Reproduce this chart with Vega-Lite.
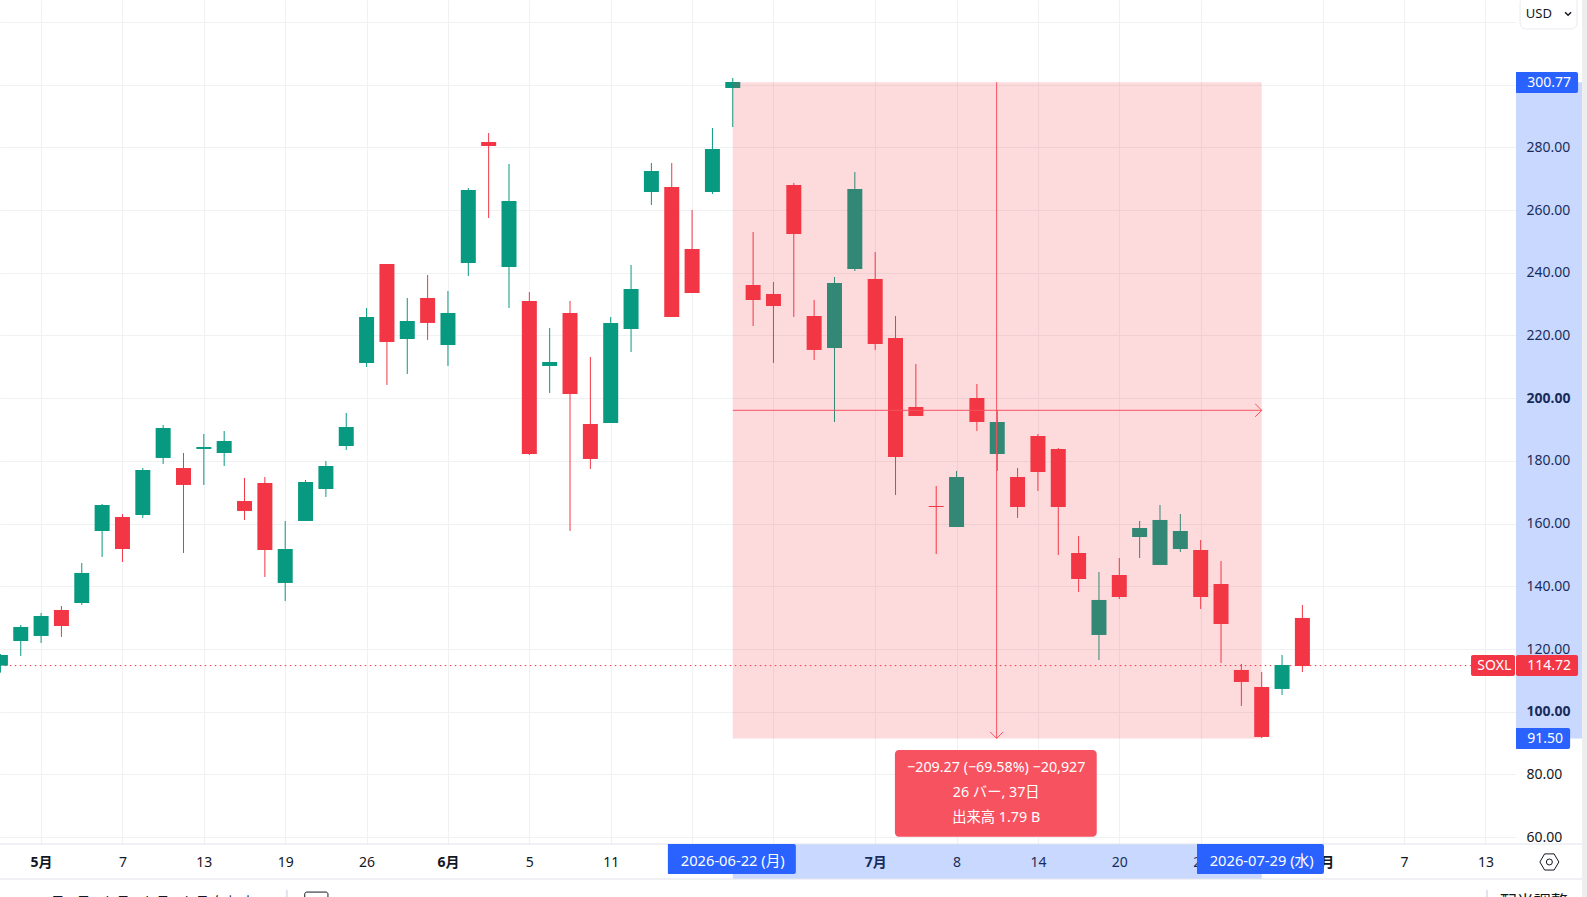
{
  "$schema": "https://vega.github.io/schema/vega-lite/v6.json",
  "width": 1516,
  "height": 844,
  "autosize": {"type": "none"},
  "padding": {"left": 0, "top": 0, "right": 71, "bottom": 53},
  "background": "white",
  "config": {
    "view": {"stroke": null},
    "font": "Noto Sans, Noto Sans CJK JP",
    "text": {"font": "Noto Sans, Noto Sans CJK JP", "fontSize": 14}
  },
  "datasets": {
    "candles": [
      {"bar": -2, "date": "2026-04-29", "open": 114.71, "high": 118.43, "low": 112.47, "close": 118.11},
      {"bar": -1, "date": "2026-04-30", "open": 122.57, "high": 127.68, "low": 117.79, "close": 127.04},
      {"bar": 0, "date": "2026-05-01", "open": 124.17, "high": 131.5, "low": 121.94, "close": 130.54},
      {"bar": 1, "date": "2026-05-04", "open": 132.46, "high": 133.73, "low": 123.85, "close": 127.36},
      {"bar": 2, "date": "2026-05-05", "open": 134.69, "high": 147.44, "low": 134.05, "close": 144.26},
      {"bar": 3, "date": "2026-05-06", "open": 157.65, "high": 166.26, "low": 149.36, "close": 165.94},
      {"bar": 4, "date": "2026-05-07", "open": 162.11, "high": 163.07, "low": 147.76, "close": 151.91},
      {"bar": 5, "date": "2026-05-08", "open": 162.75, "high": 177.74, "low": 161.79, "close": 177.1},
      {"bar": 6, "date": "2026-05-11", "open": 180.93, "high": 191.45, "low": 179.01, "close": 190.49},
      {"bar": 7, "date": "2026-05-12", "open": 177.74, "high": 182.52, "low": 150.63, "close": 172.32},
      {"bar": 8, "date": "2026-05-13", "open": 183.8, "high": 188.58, "low": 172.32, "close": 184.43},
      {"bar": 9, "date": "2026-05-14", "open": 182.52, "high": 189.53, "low": 178.37, "close": 186.35},
      {"bar": 10, "date": "2026-05-15", "open": 167.21, "high": 174.55, "low": 161.16, "close": 164.03},
      {"bar": 11, "date": "2026-05-18", "open": 172.95, "high": 174.87, "low": 142.98, "close": 151.59},
      {"bar": 12, "date": "2026-05-19", "open": 141.07, "high": 160.84, "low": 135.33, "close": 151.91},
      {"bar": 13, "date": "2026-05-20", "open": 160.84, "high": 173.91, "low": 160.84, "close": 173.27},
      {"bar": 14, "date": "2026-05-21", "open": 171.04, "high": 179.97, "low": 168.49, "close": 178.37},
      {"bar": 15, "date": "2026-05-22", "open": 184.75, "high": 195.27, "low": 183.48, "close": 190.81},
      {"bar": 16, "date": "2026-05-26", "open": 211.22, "high": 228.76, "low": 209.95, "close": 225.89},
      {"bar": 17, "date": "2026-05-27", "open": 242.79, "high": 242.79, "low": 204.21, "close": 217.92},
      {"bar": 18, "date": "2026-05-28", "open": 218.87, "high": 231.95, "low": 207.71, "close": 224.61},
      {"bar": 19, "date": "2026-05-29", "open": 231.95, "high": 239.28, "low": 218.56, "close": 223.98},
      {"bar": 20, "date": "2026-06-01", "open": 216.96, "high": 234.18, "low": 210.27, "close": 227.17},
      {"bar": 21, "date": "2026-06-02", "open": 243.11, "high": 267.02, "low": 238.96, "close": 266.39},
      {"bar": 22, "date": "2026-06-03", "open": 281.69, "high": 284.56, "low": 257.46, "close": 280.42},
      {"bar": 23, "date": "2026-06-04", "open": 241.83, "high": 274.68, "low": 228.76, "close": 262.88},
      {"bar": 24, "date": "2026-06-05", "open": 231.0, "high": 233.86, "low": 181.89, "close": 182.21},
      {"bar": 25, "date": "2026-06-08", "open": 210.27, "high": 222.38, "low": 201.66, "close": 211.54},
      {"bar": 26, "date": "2026-06-09", "open": 227.17, "high": 231.0, "low": 157.65, "close": 201.34},
      {"bar": 27, "date": "2026-06-10", "open": 191.77, "high": 213.13, "low": 177.42, "close": 180.61},
      {"bar": 28, "date": "2026-06-11", "open": 192.09, "high": 225.89, "low": 192.09, "close": 223.98},
      {"bar": 29, "date": "2026-06-12", "open": 222.06, "high": 242.47, "low": 214.73, "close": 234.82},
      {"bar": 30, "date": "2026-06-15", "open": 265.75, "high": 274.99, "low": 261.6, "close": 272.44},
      {"bar": 31, "date": "2026-06-16", "open": 267.34, "high": 274.99, "low": 225.89, "close": 225.89},
      {"bar": 32, "date": "2026-06-17", "open": 247.57, "high": 260.01, "low": 233.54, "close": 233.54},
      {"bar": 33, "date": "2026-06-18", "open": 265.75, "high": 286.16, "low": 265.11, "close": 279.46},
      {"bar": 34, "date": "2026-06-22", "open": 298.91, "high": 302.1, "low": 286.47, "close": 300.82},
      {"bar": 35, "date": "2026-06-23", "open": 236.09, "high": 253.0, "low": 223.02, "close": 231.31},
      {"bar": 36, "date": "2026-06-24", "open": 233.22, "high": 237.05, "low": 211.22, "close": 229.39},
      {"bar": 37, "date": "2026-06-25", "open": 267.98, "high": 268.62, "low": 225.89, "close": 252.35},
      {"bar": 38, "date": "2026-06-26", "open": 226.21, "high": 231.31, "low": 212.18, "close": 215.37},
      {"bar": 39, "date": "2026-06-29", "open": 215.98, "high": 238.64, "low": 192.41, "close": 236.73},
      {"bar": 40, "date": "2026-06-30", "open": 241.19, "high": 272.12, "low": 240.55, "close": 266.7},
      {"bar": 41, "date": "2026-07-01", "open": 238.0, "high": 246.61, "low": 215.37, "close": 217.28},
      {"bar": 42, "date": "2026-07-02", "open": 219.19, "high": 226.21, "low": 169.13, "close": 181.25},
      {"bar": 43, "date": "2026-07-06", "open": 197.19, "high": 210.9, "low": 194.32, "close": 194.32},
      {"bar": 44, "date": "2026-07-07", "open": 165.62, "high": 171.99, "low": 150.31, "close": 165.3},
      {"bar": 45, "date": "2026-07-08", "open": 158.92, "high": 176.78, "low": 158.92, "close": 174.87},
      {"bar": 46, "date": "2026-07-09", "open": 200.06, "high": 204.52, "low": 189.54, "close": 192.41},
      {"bar": 47, "date": "2026-07-10", "open": 182.2, "high": 196.13, "low": 176.78, "close": 192.41},
      {"bar": 48, "date": "2026-07-13", "open": 174.87, "high": 177.74, "low": 161.8, "close": 165.3},
      {"bar": 49, "date": "2026-07-14", "open": 187.94, "high": 188.58, "low": 170.4, "close": 176.46},
      {"bar": 50, "date": "2026-07-15", "open": 183.8, "high": 184.12, "low": 149.99, "close": 165.3},
      {"bar": 51, "date": "2026-07-16", "open": 150.63, "high": 156.05, "low": 138.2, "close": 142.34},
      {"bar": 52, "date": "2026-07-17", "open": 124.49, "high": 144.57, "low": 116.51, "close": 135.65},
      {"bar": 53, "date": "2026-07-20", "open": 143.62, "high": 149.04, "low": 135.96, "close": 136.6},
      {"bar": 54, "date": "2026-07-21", "open": 155.73, "high": 160.84, "low": 149.04, "close": 158.6},
      {"bar": 55, "date": "2026-07-22", "open": 146.81, "high": 165.94, "low": 146.81, "close": 161.16},
      {"bar": 56, "date": "2026-07-23", "open": 151.91, "high": 163.07, "low": 150.95, "close": 157.65},
      {"bar": 57, "date": "2026-07-24", "open": 151.59, "high": 154.78, "low": 132.78, "close": 136.6},
      {"bar": 58, "date": "2026-07-27", "open": 140.75, "high": 148.08, "low": 115.56, "close": 127.99},
      {"bar": 59, "date": "2026-07-28", "open": 113.33, "high": 115.24, "low": 101.85, "close": 109.5},
      {"bar": 60, "date": "2026-07-29", "open": 107.9, "high": 112.69, "low": 91.64, "close": 91.96},
      {"bar": 61, "date": "2026-07-30", "open": 107.27, "high": 118.11, "low": 105.35, "close": 114.92},
      {"bar": 62, "date": "2026-07-31", "open": 129.91, "high": 134.05, "low": 112.69, "close": 114.6}
    ]
  },
  "encoding": {
    "x": {
      "field": "bar",
      "type": "quantitative",
      "scale": {"domain": [-2.02, 72.5], "nice": false, "zero": false, "padding": 0},
      "axis": {
        "title": null,
        "orient": "bottom",
        "values": [0, 4, 8, 12, 16, 20, 24, 28, 32, 36, 41, 45, 49, 53, 57, 63, 67, 71],
        "labelExpr": "{'0':'5月','4':'7','8':'13','12':'19','16':'26','20':'6月','24':'5','28':'11','32':'','36':'','41':'7月','45':'8','49':'14','53':'20','57':'24','63':'8月','67':'7','71':'13'}[datum.value]",
        "labelFontWeight": {"condition": {"test": "indexof([0,20,41,63],datum.value)>=0", "value": "bold"}, "value": "normal"},
        "labelColor": "#131722",
        "labelFontSize": 14,
        "labelFont": "Noto Sans, Noto Sans CJK JP",
        "labelBaseline": "middle",
        "labelPadding": 18,
        "labelOverlap": false,
        "labelFlush": false,
        "labelBound": false,
        "tickSize": 0,
        "ticks": false,
        "domain": false,
        "grid": true,
        "gridColor": "#f0f1f3",
        "gridWidth": 1
      }
    },
    "y": {
      "field": "price",
      "type": "quantitative",
      "scale": {"domain": [57.83, 326.97], "nice": false, "zero": false, "padding": 0},
      "axis": {
        "title": null,
        "orient": "right",
        "values": [60, 80, 100, 120, 140, 160, 180, 200, 220, 240, 260, 280, 300, 320],
        "labelExpr": "datum.value>=300?'':format(datum.value,'.2f')",
        "labelFontWeight": {"condition": {"test": "datum.value==100||datum.value==200", "value": "bold"}, "value": "normal"},
        "labelColor": "#131722",
        "labelFontSize": 14,
        "labelFont": "Noto Sans, Noto Sans CJK JP",
        "labelAlign": "left",
        "labelBaseline": "middle",
        "labelPadding": 10,
        "labelOverlap": false,
        "labelFlush": false,
        "labelBound": false,
        "tickSize": 0,
        "ticks": false,
        "domain": false,
        "grid": true,
        "gridColor": "#f0f1f3",
        "gridWidth": 1
      }
    }
  },
  "layer": [
    {
      "data": {"values": [{"bar": -2.03, "bar2": 70.29, "price": 114.72}]},
      "mark": {"type": "rule", "color": "#f23645", "strokeWidth": 1, "strokeDash": [1.5, 3.5], "clip": false},
      "encoding": {"x2": {"field": "bar2"}}
    },
    {
      "data": {"name": "candles"},
      "mark": {"type": "rule", "strokeWidth": 1},
      "encoding": {
        "y": {"field": "low", "type": "quantitative"},
        "y2": {"field": "high"},
        "color": {"condition": {"test": "datum.close>=datum.open", "value": "#089981"}, "value": "#f23645"}
      }
    },
    {
      "data": {"name": "candles"},
      "mark": {"type": "bar", "size": 15, "orient": "vertical"},
      "encoding": {
        "y": {"field": "open", "type": "quantitative"},
        "y2": {"field": "close"},
        "color": {"condition": {"test": "datum.close>=datum.open", "value": "#089981"}, "value": "#f23645"}
      }
    },
    {
      "data": {"values": [{"bar": 34, "bar2": 60, "price": 300.77, "price2": 91.5}]},
      "mark": {"type": "rect", "color": "#f23645", "opacity": 0.18, "clip": false},
      "encoding": {"x2": {"field": "bar2"}, "y2": {"field": "price2"}}
    },
    {
      "data": {"values": [
        {"bar": 34, "bar2": 60, "price": 196.13, "price2": 196.13},
        {"bar": 46.97, "bar2": 46.97, "price": 300.77, "price2": 91.5}
      ]},
      "mark": {"type": "rule", "color": "#f7525f", "strokeWidth": 1},
      "encoding": {"x2": {"field": "bar2"}, "y2": {"field": "price2"}}
    },
    {
      "data": {"values": [{"bar": 60, "price": 196.13}]},
      "mark": {"type": "point", "shape": "M-1,-1L0,0L-1,1", "size": 169, "filled": false, "color": "#f7525f", "strokeWidth": 1, "opacity": 1},
      "encoding": {}
    },
    {
      "data": {"values": [{"bar": 46.97, "price": 91.5}]},
      "mark": {"type": "point", "shape": "M-1,-1L0,0L1,-1", "size": 169, "filled": false, "color": "#f7525f", "strokeWidth": 1, "opacity": 1},
      "encoding": {}
    },
    {
      "data": {"values": [
        {"bar": 72.5, "bar2": 75.75, "price": 300.77, "price2": 91.5},
        {"bar": 34, "bar2": 60, "price": 57.83, "price2": 46.67}
      ]},
      "mark": {"type": "rect", "color": "#2962ff", "opacity": 0.25, "clip": false},
      "encoding": {"x2": {"field": "bar2"}, "y2": {"field": "price2"}}
    },
    {
      "data": {"values": [
        {"bar": -2.03, "bar2": 75.75, "price": 57.83},
        {"bar": -2.03, "bar2": 75.75, "price": 46.67}
      ]},
      "mark": {"type": "rule", "color": "#e0e3eb", "strokeWidth": 1},
      "encoding": {"x2": {"field": "bar2"}}
    },
    {
      "data": {"values": [
        {"bar": 72.7, "bar2": 75.5, "price": 328, "price2": 317.72}
      ]},
      "mark": {"type": "rect", "fill": "white", "stroke": "#e9ebf0", "cornerRadius": 6},
      "encoding": {"x2": {"field": "bar2"}, "y2": {"field": "price2"}}
    },
    {
      "data": {"values": [{"bar": 72.98, "price": 322.5, "label": "USD"}]},
      "mark": {"type": "text", "align": "left", "baseline": "middle", "fontSize": 13, "color": "#131722"},
      "encoding": {"text": {"field": "label"}}
    },
    {
      "data": {"values": [{"bar": 75.06, "price": 322.6}]},
      "mark": {"type": "point", "shape": "M-1,-0.5L0,0.5L1,-0.5", "size": 36, "filled": false, "color": "#131722", "strokeWidth": 1.5, "opacity": 1},
      "encoding": {}
    },
    {
      "data": {"values": [
        {"bar": 72.5, "bar2": 75.55, "price": 304.01, "price2": 297.31},
        {"bar": 72.5, "bar2": 75.16, "price": 94.8, "price2": 88.1},
        {"bar": 30.81, "bar2": 37.1, "price": 57.83, "price2": 48.27},
        {"bar": 56.82, "bar2": 63.06, "price": 57.83, "price2": 48.27}
      ]},
      "mark": {"type": "rect", "color": "#2962ff", "cornerRadiusBottomRight": 2, "cornerRadiusTopRight": 2, "cornerRadiusBottomLeft": 1},
      "encoding": {"x2": {"field": "bar2"}, "y2": {"field": "price2"}}
    },
    {
      "data": {"values": [
        {"bar": 70.29, "bar2": 72.45, "price": 118.1, "price2": 111.4},
        {"bar": 72.5, "bar2": 75.55, "price": 118.1, "price2": 111.4}
      ]},
      "mark": {"type": "rect", "color": "#f23645", "cornerRadius": 2},
      "encoding": {"x2": {"field": "bar2"}, "y2": {"field": "price2"}}
    },
    {
      "data": {"values": [
        {"bar": 73.05, "price": 300.4, "label": "300.77"},
        {"bar": 73.05, "price": 91.47, "label": "91.50"},
        {"bar": 73.05, "price": 114.72, "label": "114.72"},
        {"bar": 70.6, "price": 114.72, "label": "SOXL"}
      ]},
      "mark": {"type": "text", "align": "left", "baseline": "middle", "fontSize": 14, "color": "white"},
      "encoding": {"text": {"field": "label"}}
    },
    {
      "data": {"values": [
        {"bar": 34, "price": 52.2, "label": "2026-06-22 (月)"},
        {"bar": 60, "price": 52.2, "label": "2026-07-29 (水)"}
      ]},
      "mark": {"type": "text", "align": "center", "baseline": "middle", "fontSize": 14.7, "color": "white"},
      "encoding": {"text": {"field": "label"}}
    },
    {
      "data": {"values": [{"bar": 41.97, "bar2": 51.89, "price": 87.8, "price2": 60.16}]},
      "mark": {"type": "rect", "color": "#f7525f", "cornerRadius": 4},
      "encoding": {"x2": {"field": "bar2"}, "y2": {"field": "price2"}}
    },
    {
      "data": {"values": [
        {"bar": 46.95, "price": 81.97, "label": "−209.27 (−69.58%) −20,927"},
        {"bar": 46.95, "price": 74.2, "label": "26 バー, 37日"},
        {"bar": 46.95, "price": 66.0, "label": "出来高 1.79 B"}
      ]},
      "mark": {"type": "text", "align": "center", "baseline": "middle", "fontSize": 14.3, "color": "white"},
      "encoding": {"text": {"field": "label"}}
    },
    {
      "data": {"values": [{"bar": 74.14, "price": 52.1}]},
      "mark": {"type": "point", "shape": "M-1,0L-0.5,-0.85L0.5,-0.85L1,0L0.5,0.85L-0.5,0.85Z", "size": 361, "filled": false, "color": "#131722", "strokeWidth": 1, "opacity": 1},
      "encoding": {}
    },
    {
      "data": {"values": [{"bar": 74.14, "price": 52.1}]},
      "mark": {"type": "point", "shape": "circle", "size": 36, "filled": false, "color": "#131722", "strokeWidth": 1, "opacity": 1},
      "encoding": {}
    },
    {
      "data": {"values": [
        {"bar": 12.08, "bar2": 12.08, "price": 43.2, "price2": 38},
        {"bar": 71.07, "bar2": 71.07, "price": 43.2, "price2": 38}
      ]},
      "mark": {"type": "rule", "color": "#e0e3eb", "strokeWidth": 2},
      "encoding": {"x2": {"field": "bar2"}, "y2": {"field": "price2"}}
    },
    {
      "data": {"values": [{"bar": 12.96, "bar2": 14.1, "price": 42.5, "price2": 38}]},
      "mark": {"type": "rect", "fill": null, "stroke": "#131722", "strokeWidth": 1, "cornerRadius": 2},
      "encoding": {"x2": {"field": "bar2"}, "y2": {"field": "price2"}}
    },
    {
      "data": {"values": [
        {"bar": 0.08, "price": 38.9, "label": "1日   5日   1か月   3か月   6か月   年初来"},
        {"bar": 64.6, "price": 38.9, "label": "15:40:04 UTC-4"}
      ]},
      "mark": {"type": "text", "align": "left", "baseline": "middle", "fontSize": 14, "color": "#131722"},
      "encoding": {"text": {"field": "label"}}
    },
    {
      "data": {"values": [{"bar": 71.7, "price": 38.9, "label": "配当調整"}]},
      "mark": {"type": "text", "align": "left", "baseline": "middle", "fontSize": 17, "color": "#131722"},
      "encoding": {"text": {"field": "label"}}
    },
    {
      "data": {"values": [{"bar": 75.75, "bar2": 76.1, "price": 328, "price2": 38}]},
      "mark": {"type": "rect", "color": "#ededed"},
      "encoding": {"x2": {"field": "bar2"}, "y2": {"field": "price2"}}
    }
  ]
}
